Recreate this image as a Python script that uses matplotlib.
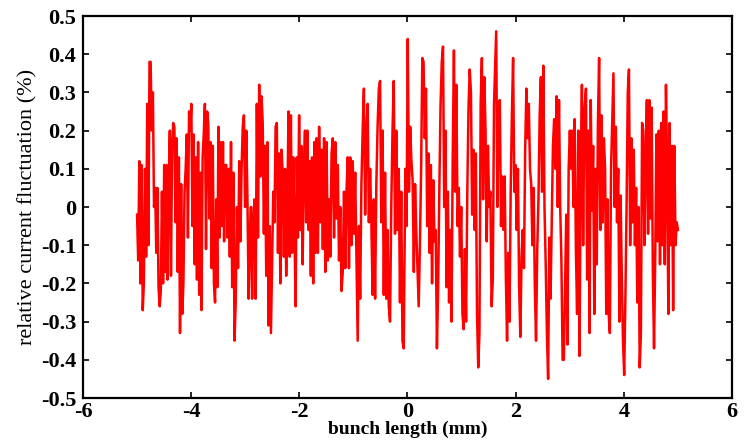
import numpy as np
import matplotlib
matplotlib.use('Agg')
import matplotlib.pyplot as plt

# relative current fluctuation (%), in six pieces along the bunch
seg1 = [-0.02, -0.14, 0.12, -0.2, 0.11, -0.27, -0.2, 0.1, -0.13, 0.27, -0.1, 0.38, 0.38, 0.2, 0.3,
        0.0, 0.05, -0.12, 0.05, -0.21, -0.26, -0.22, 0.04, -0.2, 0.11, -0.17, 0.11, -0.19, 0.07, 0.2,
        -0.18, 0.16, 0.22, 0.21, -0.04, 0.18, -0.17, 0.13, -0.33, 0.06, -0.28, -0.2, 0.04, 0.1, 0.19,
        -0.08, 0.25, 0.2, 0.27, -0.05, 0.19, -0.15, 0.13, -0.19, 0.17, -0.23, 0.09, -0.27, 0.13, 0.19,
        0.27, -0.11, 0.25, 0.22, -0.03, 0.17, -0.16, 0.16, -0.2, -0.25, 0.02, -0.21, 0.21, -0.08, 0.17,
        -0.05, 0.17, -0.09, 0.11]
seg2 = [0.11, -0.08, 0.1, -0.13, 0.17, -0.21, 0.09, -0.35, -0.25, 0.0, -0.16, 0.12, -0.09, 0.1, 0.21,
        0.24, 0.0, 0.2, 0.02, -0.24, -0.08, 0.0, -0.24, -0.03, 0.02, -0.24, 0.27, -0.08, 0.32, 0.08,
        0.29, 0.22, -0.07, 0.16, -0.18, 0.17, -0.31, -0.05, -0.33, -0.15, 0.04, -0.04, 0.21, 0.22, -0.12,
        0.14, -0.2, 0.15, 0.09, -0.13, 0.1, -0.18, 0.02, 0.25, -0.13, 0.24, -0.12, 0.13, -0.05, -0.26,
        0.13, -0.08, 0.24, -0.06, 0.16, -0.15, 0.1, 0.2, -0.04, 0.2, -0.06, 0.12, -0.18, 0.13, -0.2,
        0.17, -0.12]
seg3 = [0.18, -0.12, 0.21, -0.04, 0.15, -0.11, 0.18, -0.17, 0.17, -0.14, 0.02, -0.13, 0.14, 0.18, -0.08,
        0.17, -0.03, 0.11, -0.14, 0.0, -0.22, -0.17, 0.04, -0.16, 0.04, 0.13, -0.16, 0.13, -0.1, 0.12,
        -0.07, 0.09, -0.13, -0.35, -0.05, -0.24, 0.06, 0.2, 0.31, -0.02, 0.2, 0.27, -0.04, 0.1, -0.04,
        -0.23, 0.02, -0.24, 0.06, 0.21, 0.31, 0.33, -0.04, 0.2, -0.23, 0.09, -0.24, -0.06, -0.26, -0.3,
        0.0, 0.2, 0.33, -0.07, 0.2, -0.06, 0.1, -0.25, 0.04, -0.35, -0.37]
seg4 = [0.1, -0.05, 0.44, 0.04, 0.21, 0.12, 0.07, -0.17, 0.06, -0.06, -0.16, -0.26, -0.1, 0.1, 0.39,
        0.38, 0.18, 0.31, -0.05, 0.14, -0.12, 0.11, -0.2, 0.07, -0.09, -0.06, -0.37, -0.21, 0.05, 0.27,
        0.38, 0.42, 0.0, 0.2, -0.21, 0.04, -0.25, -0.06, -0.3, 0.13, 0.41, 0.04, 0.32, -0.05, 0.05,
        -0.13, 0.0, -0.28, -0.32, -0.11, -0.3, 0.04, 0.26, 0.36, 0.3, -0.02, 0.15, -0.06, 0.14, -0.28,
        -0.42, -0.33, 0.27, 0.39, 0.02, 0.34, 0.2, -0.09, 0.16, 0.0, 0.04, -0.26, -0.19, 0.27]
seg5 = [0.46, 0.0, 0.27, 0.28, -0.05, 0.08, -0.06, 0.08, -0.18, -0.35, -0.12, -0.3, 0.04, 0.24, 0.39,
        0.04, 0.11, -0.06, 0.1, -0.21, -0.34, -0.13, -0.06, -0.16, 0.15, 0.31, 0.18, 0.27, 0.1, 0.06,
        -0.1, 0.05, -0.21, -0.35, -0.11, 0.02, 0.24, 0.34, 0.04, 0.37, 0.0, -0.15, -0.33, -0.45, -0.08,
        -0.24, -0.04, 0.16, 0.23, 0.1, 0.29, 0.0, 0.28, 0.0, -0.14, -0.4, -0.4, -0.22, -0.02, -0.36,
        0.1, 0.2, 0.1, 0.2, 0.0, 0.23, -0.11, -0.28, 0.2, -0.39, 0.1, 0.32, -0.1, 0.25]
seg6 = [0.31, -0.19, 0.2, -0.33, 0.28, -0.01, 0.16, -0.28, 0.1, -0.15, 0.22, 0.39, -0.06, 0.24, -0.04,
        0.18, 0.1, -0.28, 0.02, -0.28, -0.33, 0.1, 0.23, 0.35, 0.0, 0.21, -0.04, 0.1, -0.3, 0.03,
        -0.18, -0.35, -0.44, -0.24, 0.0, 0.3, 0.36, -0.1, 0.18, -0.04, 0.15, -0.1, 0.05, -0.25, 0.0,
        -0.42, -0.33, 0.22, 0.2, -0.1, 0.13, 0.28, -0.07, 0.28, -0.03, 0.26, -0.17, -0.37, -0.13, 0.19,
        -0.09, 0.2, -0.15, 0.22, -0.1, 0.25, -0.15, 0.32, 0.09, -0.28, 0.22, -0.1, 0.16, -0.27, 0.16,
        -0.1, -0.04, -0.06]
segments = [seg1, seg2, seg3, seg4, seg5, seg6]
# bunch length (mm) covered by each piece
seg_spans = [(-5.0, -3.37), (-3.35, -1.70), (-1.68, -0.07), (-0.04, 1.60), (1.64, 3.27), (3.30, 5.0)]

xticks = [-6, -4, -2, 0, 2, 4, 6]
yticks = [-0.5, -0.4, -0.3, -0.2, -0.1, 0, 0.1, 0.2, 0.3, 0.4, 0.5]
ytick_labels = ['-0.5', '-0.4', '-0.3', '-0.2', '-0.1', '0', '0.1', '0.2', '0.3', '0.4', '0.5']

x = np.concatenate([np.linspace(a, b, len(s)) for (a, b), s in zip(seg_spans, segments)])
y = np.concatenate([np.array(s) for s in segments])

plt.rcParams['font.family'] = ['Liberation Serif', 'DejaVu Serif']

fig = plt.figure(figsize=(7.51, 4.41), dpi=100)
ax = fig.add_axes([0.1105, 0.0975, 0.8642, 0.8662])

ax.plot(x, y, color='#ff0000', linewidth=1.8)

ax.set_xlim(-6, 6)
ax.set_ylim(-0.5, 0.5)
ax.set_xticks(xticks)
ax.set_xticklabels([str(t) for t in xticks])
ax.set_yticks(yticks)
ax.set_yticklabels(ytick_labels)
ax.tick_params(direction='in', top=True, right=True, length=4, width=1.2,
               labelsize=16, pad=3)
ax.tick_params(axis='y', pad=5)
for lab in ax.get_xticklabels() + ax.get_yticklabels():
    lab.set_fontweight('bold')
for sp in ax.spines.values():
    sp.set_linewidth(1.6)

ax.set_xlabel('bunch length (mm)', fontsize=14, fontweight='bold', labelpad=-1)
ax.set_ylabel('relative current fluctuation (%)', fontsize=16)
ax.yaxis.set_label_coords(-0.07, 0.5)

fig.savefig('out.png', dpi=100)
